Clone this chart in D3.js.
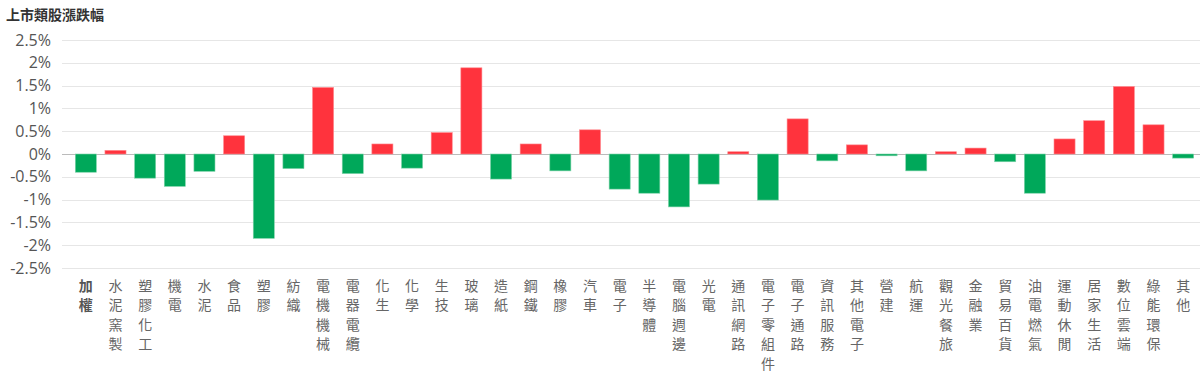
<!DOCTYPE html>
<html lang="zh-Hant">
<head>
<meta charset="utf-8">
<title>上市類股漲跌幅</title>
<script src="https://d3js.org/d3.v7.min.js"></script>
<style>
  body { margin:0; background:#fff; }
  svg { display:block; }
  .title { font-family:"Noto Sans CJK TC","Noto Sans",sans-serif; font-size:14px; font-weight:bold; fill:#333; }
  .yaxis text { font-family:"Open Sans","Noto Sans",sans-serif; font-size:16px; fill:#555; }
  .xlab { font-family:"Noto Sans CJK TC",sans-serif; font-size:14px; fill:#666; }
</style>
</head>
<body>
<div id="chart"></div>
<script>
// sector names and daily change (%)
var sectors = ["加權","水泥窯製","塑膠化工","機電","水泥","食品","塑膠","紡織","電機機械","電器電纜",
  "化生","化學","生技","玻璃","造紙","鋼鐵","橡膠","汽車","電子","半導體",
  "電腦週邊","光電","通訊網路","電子零組件","電子通路","資訊服務","其他電子","營建","航運","觀光餐旅",
  "金融業","貿易百貨","油電燃氣","運動休閒","居家生活","數位雲端","綠能環保","其他"];
var changes = [-0.40, 0.08, -0.53, -0.71, -0.38, 0.40, -1.85, -0.32, 1.46, -0.43,
  0.22, -0.31, 0.47, 1.89, -0.55, 0.22, -0.37, 0.53, -0.77, -0.86,
  -1.16, -0.66, 0.05, -1.01, 0.77, -0.15, 0.20, -0.04, -0.37, 0.05,
  0.13, -0.17, -0.86, 0.33, 0.73, 1.48, 0.64, -0.09];
var yTicks = [2.5, 2, 1.5, 1, 0.5, 0, -0.5, -1, -1.5, -2, -2.5];

var w = 1200, h = 381;
var gridLeft = 62, gridRight = 1200;

var svg = d3.select("#chart").append("svg")
  .attr("width", w).attr("height", h);

svg.append("text").attr("class", "title")
  .attr("x", 6).attr("y", 20).text("上市類股漲跌幅");

var x = d3.scaleBand().domain(sectors).range([71, 1198]).paddingInner(0.29).paddingOuter(0.145);
var y = d3.scaleLinear().domain([-2.5, 2.5]).range([268, 40]);

// gridlines
svg.append("g").selectAll("line")
  .data(yTicks).enter().append("line")
  .attr("x1", gridLeft).attr("x2", gridRight)
  .attr("y1", function(d) { return Math.round(y(d)) + 0.5; })
  .attr("y2", function(d) { return Math.round(y(d)) + 0.5; })
  .attr("stroke", function(d) { return d === 0 ? "#bbb" : "#e6e6e6"; })
  .attr("stroke-width", 1);

// y labels
var yAxis = d3.axisLeft(y).tickValues(yTicks).tickSize(0).tickPadding(0)
  .tickFormat(function(d) { return d + "%"; });
svg.append("g").attr("class", "yaxis")
  .attr("transform", "translate(51,0)")
  .call(yAxis)
  .call(function(g) { g.select(".domain").remove(); });

// bars
svg.append("g").selectAll("rect")
  .data(changes).enter().append("rect")
  .attr("x", function(d, i) { return x(sectors[i]); })
  .attr("width", x.bandwidth())
  .attr("y", function(d) { return y(Math.max(0, d)); })
  .attr("height", function(d) { return Math.abs(y(d) - y(0)); })
  .attr("fill", function(d) { return d >= 0 ? "#ff333d" : "#00a85a"; })
  .attr("stroke", function(d) { return d >= 0 ? "#ff8a8f" : "#7fd3aa"; })
  .attr("stroke-width", 0.6);

// vertical category labels
var lab = svg.append("g").selectAll("text")
  .data(sectors).enter().append("text")
  .attr("class", "xlab")
  .attr("text-anchor", "middle")
  .attr("x", function(d) { return x(d) + x.bandwidth() / 2; })
  .style("font-weight", function(d, i) { return i === 0 ? "bold" : "normal"; })
  .style("fill", function(d, i) { return i === 0 ? "#555" : "#666"; });
lab.selectAll("tspan")
  .data(function(d) { return d.split(""); })
  .enter().append("tspan")
  .attr("x", function() { var p = this.parentNode; return p.getAttribute("x"); })
  .attr("y", function(c, j) { return 291 + j * 19.4; })
  .text(function(c) { return c; });
</script>
</body>
</html>
